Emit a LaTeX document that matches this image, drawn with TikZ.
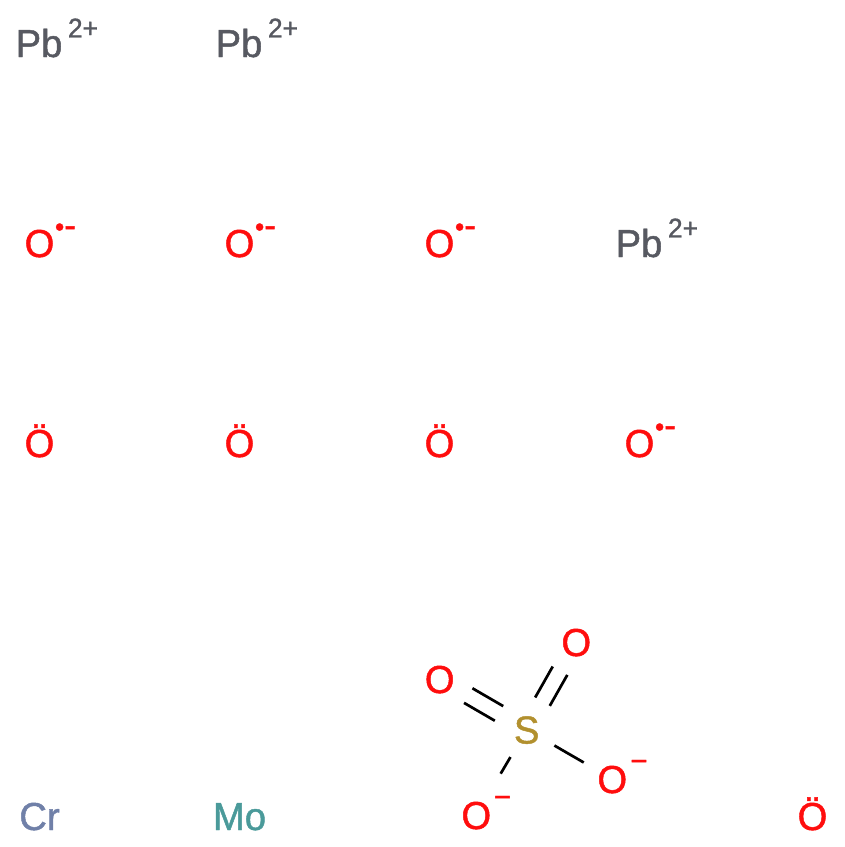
\documentclass[tikz,border=0pt]{standalone}
\usepackage{fontspec}
\setmainfont{Liberation Sans}[FakeBold=1.2,FakeStretch=0.98]
\usepackage{xcolor}
\definecolor{leadcol}{HTML}{575961}
\definecolor{oxycol}{HTML}{FF0D0D}
\definecolor{sulfcol}{HTML}{B2902E}
\definecolor{chromcol}{HTML}{7080A8}
\definecolor{molycol}{HTML}{4A9A9A}
\newcommand{\radminus}{\smash{•}\smash{\raisebox{-1.3pt}{\fontsize{36}{36}\selectfont-}}}
\tikzset{
  atom/.style={inner sep=0pt, text height=28pt, text depth=0pt, font=\fontsize{39}{39}\selectfont},
  charge/.style={inner sep=0pt, font=\fontsize{27}{27}\selectfont},
  minus/.style={charge, font=\fontsize{30}{30}\selectfont},
  bond/.style={line width=2.7pt, black, shorten <=32pt, shorten >=33pt}
}

\begin{document}
\begin{tikzpicture}[x=1pt,y=-1pt]
\useasboundingbox (0,0) rectangle (845,847);

\node[atom, leadcol] (pb1) at (39,43) {Pb};
\node[atom, leadcol] (pb2) at (239,43) {Pb};
\node[atom, leadcol] (pb3) at (639,243) {Pb};
\node[charge, leadcol] (pb1c) at (83,28) {2+};
\node[charge, leadcol] (pb2c) at (283,28) {2+};
\node[charge, leadcol] (pb3c) at (683,228) {2+};

\node[atom, oxycol] (o1) at (39.5,243) {O};
\node[atom, oxycol] (o2) at (239.5,243) {O};
\node[atom, oxycol] (o3) at (439.5,243) {O};
\node[atom, oxycol] (o4) at (639.5,443) {O};
\foreach \n/\x/\y in {o1c/65.5/236, o2c/265.5/236, o3c/465.5/236, o4c/665.5/436}
  \node[charge, oxycol] (\n) at (\x,\y) {\radminus};

\node[atom, oxycol] (o5) at (39.5,443) {Ö};
\node[atom, oxycol] (o6) at (239.5,443) {Ö};
\node[atom, oxycol] (o7) at (439.5,443) {Ö};
\node[atom, oxycol] (o8) at (812.5,816) {Ö};

\node[atom, chromcol] (cr) at (39.5,816) {Cr};
\node[atom, molycol] (mo) at (239.5,816) {Mo};

\node[atom, sulfcol] (s) at (526.7,729.5) {S};
\node[atom, oxycol] (oa) at (439.7,679) {O};
\node[atom, oxycol] (ob) at (576.3,642) {O};
\node[atom, oxycol] (oc) at (612.3,779) {O};
\node[atom, oxycol] (od) at (476.3,815) {O};
\node[minus, oxycol] (occ) at (639,765.5) {−};
\node[minus, oxycol] (odc) at (502.5,801.5) {−};

\draw[bond, transform canvas={shift={(4.2,-7.3)}}] (s.center) -- (oa.center);
\draw[bond, transform canvas={shift={(-4.2,7.3)}}] (s.center) -- (oa.center);
\draw[bond, transform canvas={shift={(7.3,4.2)}}] (s.center) -- (ob.center);
\draw[bond, transform canvas={shift={(-7.3,-4.2)}}] (s.center) -- (ob.center);
\draw[bond] (s.center) -- (oc.center);
\draw[bond, shorten >=48pt] (s.center) -- (od.center);
\end{tikzpicture}
\end{document}
